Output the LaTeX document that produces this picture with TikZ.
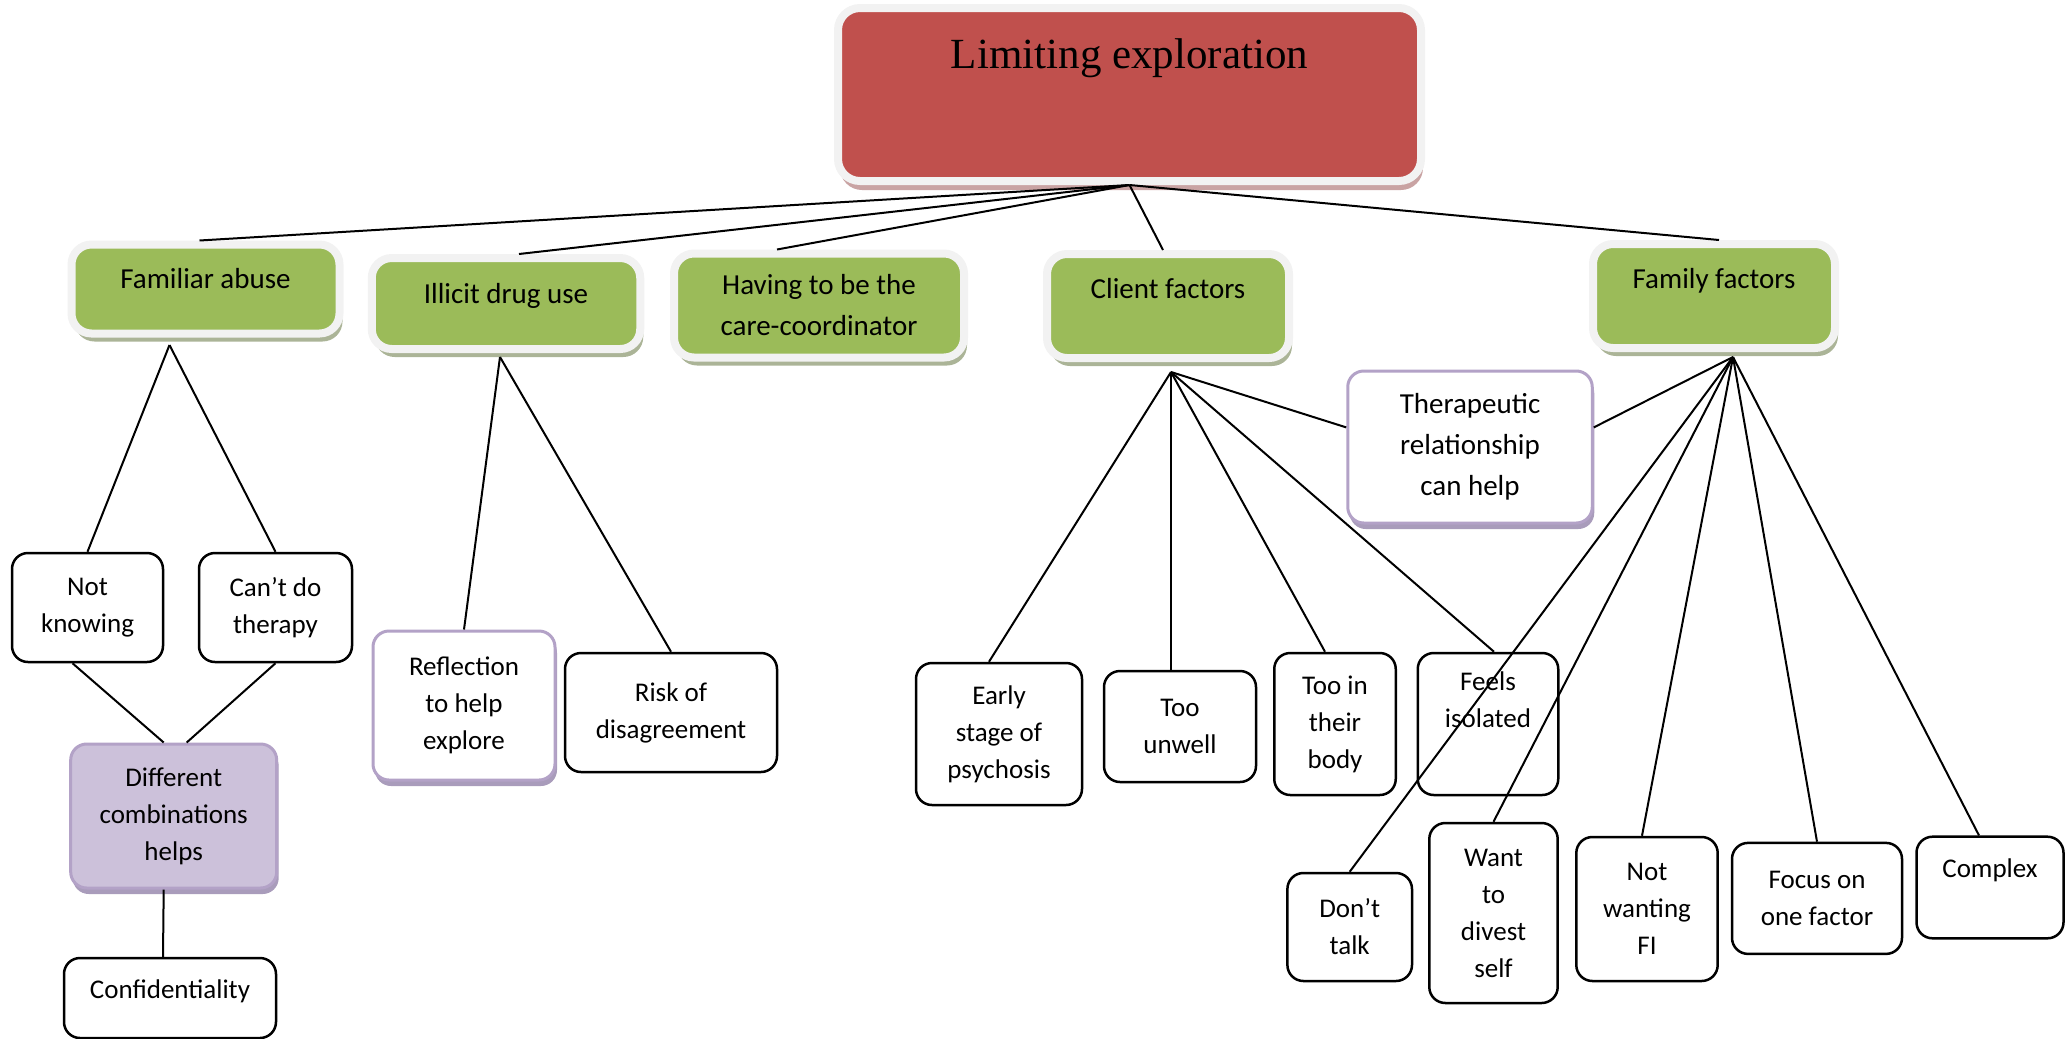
\documentclass[tikz,border=0pt]{standalone}
\usepackage{fontspec}
\setmainfont{Carlito}
\newfontfamily\titlefont{Liberation Serif}
\usetikzlibrary{shadows}

\definecolor{headred}{HTML}{C0504D}
\definecolor{headshadow}{HTML}{C9A3A3}
\definecolor{themegreen}{HTML}{9BBB59}
\definecolor{greenshadow}{HTML}{ABB497}
\definecolor{ringgrey}{HTML}{F2F2F2}
\definecolor{lavender}{HTML}{CCC1DA}
\definecolor{lavenderline}{HTML}{B3A2C7}
\definecolor{lavendershadow}{HTML}{A99CBB}

\begin{document}
\begin{tikzpicture}[
  x=1pt, y=-1pt,
  link/.style={line width=2pt},
  boxsize/.style 2 args={minimum width=#1pt, minimum height=#2pt},
  lift/.style={text height=22pt, text depth=#1},
  headbox/.style={rectangle, rounded corners=22pt, draw=ringgrey, line width=8pt, fill=headred,
    inner sep=0pt, font=\titlefont\fontsize{43}{50}\selectfont,
    drop shadow={shadow xshift=2pt, shadow yshift=-9pt, fill=headshadow, opacity=1}},
  theme/.style={rectangle, rounded corners=20pt, draw=ringgrey, line width=8pt, fill=themegreen,
    inner sep=0pt, align=center, font=\fontsize{29}{41}\selectfont,
    drop shadow={shadow xshift=3pt, shadow yshift=-8pt, fill=greenshadow, opacity=1}},
  leaf/.style={rectangle, rounded corners=16pt, draw=black, line width=2.5pt, fill=white,
    inner sep=0pt, align=center, font=\fontsize{27}{37}\selectfont},
  helper/.style={leaf, draw=lavenderline, line width=3pt,
    drop shadow={shadow xshift=2pt, shadow yshift=-6pt, fill=lavendershadow, opacity=1}}
]

\useasboundingbox (0,0) rectangle (2065,1039);

\node (title) [headbox, boxsize={583}{173}, lift=75pt] at (1129.5,94.5) {Limiting exploration};

\node (fam) [theme, boxsize={268}{89}, lift=24pt] at (205.5,289) {Familiar abuse};
\node (drug) [theme, boxsize={268.5}{91}, lift=23pt] at (506,303.5) {Illicit drug use};
\node (coord) [theme, boxsize={290}{104}] at (819,305.5) {Having to be the\\care-coordinator};
\node (client) [theme, boxsize={242}{104}, lift=38pt] at (1168,306) {Client factors};
\node (family) [theme, boxsize={242}{104}, lift=38pt] at (1714,296) {Family factors};

\node (notknow) [leaf, boxsize={151}{109}] at (87.5,607.5) {Not\\knowing};
\node (cantdo) [leaf, boxsize={153}{109}] at (275.5,607.5) {Can’t do\\therapy};
\node (combo) [helper, fill=lavender, boxsize={206}{144}] at (173.7,816) {Different\\combinations\\helps};
\node (conf) [leaf, boxsize={212}{80}, lift=22pt] at (170,998) {Confidentiality};

\node (reflect) [helper, boxsize={182}{149}] at (464,705.5) {Reflection\\to help\\explore};
\node (risk) [leaf, boxsize={212}{119}] at (671,712.5) {Risk of\\disagreement};

\node (therapy) [helper, boxsize={244.5}{152}, font=\fontsize{29}{41}\selectfont] at (1470,447) {Therapeutic\\relationship\\can help};

\node (early) [leaf, boxsize={166}{142}] at (999,734) {Early\\stage of\\psychosis};
\node (unwell) [leaf, boxsize={152}{111}] at (1180,726.5) {Too\\unwell};
\node (body) [leaf, boxsize={121.5}{142}] at (1335,724) {Too in\\their\\body};
\node (isolated) [leaf, boxsize={140.5}{142}] at (1488,724) {Feels\\isolated\\\strut};

\node (donttalk) [leaf, boxsize={124.6}{108}] at (1349.7,927) {Don’t\\talk};
\node (divest) [leaf, boxsize={128.4}{180}] at (1493.5,913) {Want\\to\\divest\\self};
\node (notfi) [leaf, boxsize={141.4}{144}] at (1647,909) {Not\\wanting\\FI};
\node (focus) [leaf, boxsize={170}{111}] at (1817,898.4) {Focus on\\one factor};
\node (complex) [leaf, boxsize={147}{101.6}, lift=43pt] at (1990,887.5) {Complex};

\coordinate (famfan) at ([xshift=-36pt, yshift=-7.5pt]fam.south);
\coordinate (drugfan) at ([xshift=-6pt, yshift=-4pt]drug.south);
\coordinate (clientfan) at ([xshift=3pt, yshift=-10pt]client.south);
\coordinate (familyfan) at ([xshift=19pt, yshift=-5pt]family.south);

\draw [link] (title.south) -- ([xshift=-6pt]fam.north);
\draw [link] (title.south) -- ([xshift=13pt]drug.north);
\draw [link] (title.south) -- ([xshift=-42pt]coord.north);
\draw [link] (title.south) -- ([xshift=-5pt]client.north);
\draw [link] (title.south) -- ([xshift=5pt]family.north);

\draw [link] (famfan) -- (notknow.north);
\draw [link] (famfan) -- (cantdo.north);
\draw [link] ([xshift=-15pt]notknow.south) -- ([xshift=-10pt]combo.north);
\draw [link] (cantdo.south) -- ([xshift=13pt]combo.north);
\draw [link] ([xshift=-10pt]combo.south) -- ([xshift=-7pt]conf.north);

\draw [link] (drugfan) -- (reflect.north);
\draw [link] (drugfan) -- (risk.north);

\draw [link] (clientfan) -- ([xshift=-10pt]early.north);
\draw [link] (clientfan) -- ([xshift=-9pt]unwell.north);
\draw [link] (clientfan) -- ([xshift=-10pt]body.north);
\draw [link] (clientfan) -- ([xshift=6pt]isolated.north);
\draw [link] (clientfan) -- (therapy.171);

\draw [link] (familyfan) -- (therapy.9);
\draw [link] (familyfan) -- (donttalk.north);
\draw [link] (familyfan) -- (divest.north);
\draw [link] (familyfan) -- ([xshift=-5pt]notfi.north);
\draw [link] (familyfan) -- (focus.north);
\draw [link] (familyfan) -- ([xshift=-11pt]complex.north);

\end{tikzpicture}
\end{document}
